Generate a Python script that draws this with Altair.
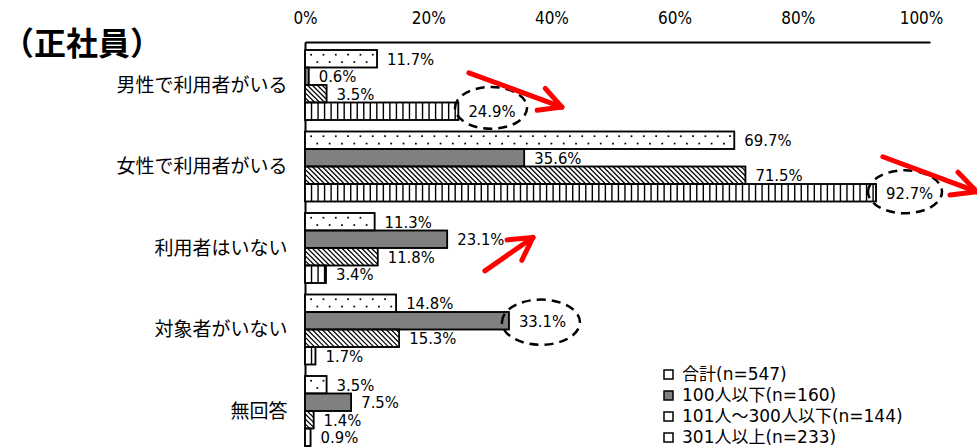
import json
import numpy as np
import pandas as pd
import altair as alt

# ---------------- data ----------------
categories = ["男性で利用者がいる", "女性で利用者がいる", "利用者はいない", "対象者がいない", "無回答"]
series_names = ["合計(n=547)", "100人以下(n=160)", "101人～300人以下(n=144)", "301人以上(n=233)"]
total_vals = [11.7, 69.7, 11.3, 14.8, 3.5]
small_vals = [0.6, 35.6, 23.1, 33.1, 7.5]
mid_vals = [3.5, 71.5, 11.8, 15.3, 1.4]
large_vals = [24.9, 92.7, 3.4, 1.7, 0.9]
tick_values = [0, 20, 40, 60, 80, 100]
title_text = "（正社員）"

# annotations (data units: x in %, y in category index)
ellipse_x = [30.2, 97.4, 38.3]
ellipse_y = [0.28, 1.31, 2.91]
arrow_x1 = [26.6, 93.8, 29.2]
arrow_y1 = [-0.15, 0.88, 2.28]
arrow_x2 = [41.7, 109.1, 37.0]
arrow_y2 = [0.27, 1.31, 1.87]
head_a_x = [39.0, 106.0, 32.8]
head_a_y = [0.04, 1.07, 1.90]
head_b_x = [37.7, 104.7, 35.2]
head_b_y = [0.31, 1.35, 2.15]

# ---------------- layout constants ----------------
STEP = 0.2147
HALF = 0.1074
PX_PER_PCT = 6.16
PX_PER_CAT = 81.5

rows = []
all_vals = [total_vals, small_vals, mid_vals, large_vals]
for j, (name, vals) in enumerate(zip(series_names, all_vals)):
    for i, (cat, v) in enumerate(zip(categories, vals)):
        yc = i + (j - 1.5) * STEP
        rows.append(dict(cat=cat, series=name, sidx=j, value=v, zero=0.0,
                         yc=yc, y0=yc - HALF, y1=yc + HALF, label=f"{v:.1f}%"))
df = pd.DataFrame(rows)

# textures
dots = []
stripes = []
hatch = []
for r in rows:
    v, y0, y1, yc = r["value"], r["y0"], r["y1"], r["yc"]
    if r["sidx"] == 0:
        for k in np.arange(1.0, v - 0.4, 2.0):
            dots.append(dict(x=k, y=yc - 0.05))
        for k in np.arange(2.0, v - 0.4, 2.0):
            dots.append(dict(x=k, y=yc + 0.04))
    elif r["sidx"] == 3:
        for k in np.arange(1.06, v - 0.2, 1.06):
            stripes.append(dict(x=k, y0=y0, y1=y1))
    elif r["sidx"] == 2:
        d = 2 * HALF * PX_PER_CAT / PX_PER_PCT
        h = y1 - y0
        for x0 in np.arange(-d, v, 0.8):
            xs, ys, xe, ye = x0, y0, x0 + d, y1
            if xs < 0:
                t = -xs / d
                xs, ys = 0.0, y0 + t * h
            if xe > v:
                t = (v - x0) / d
                xe, ye = v, y0 + t * h
            if xe - xs > 0.05:
                hatch.append(dict(xs=xs, ys=ys, xe=xe, ye=ye))
dots_df = pd.DataFrame(dots)
stripes_df = pd.DataFrame(stripes)
hatch_df = pd.DataFrame(hatch)

ell_df = pd.DataFrame(dict(x=ellipse_x, y=ellipse_y, s=[72 ** 2, 74 ** 2, 78 ** 2]))
seg_df = pd.DataFrame(dict(
    xs=arrow_x1 + arrow_x2 + arrow_x2,
    ys=arrow_y1 + arrow_y2 + arrow_y2,
    xe=arrow_x2 + head_a_x + head_b_x,
    ye=arrow_y2 + head_a_y + head_b_y,
))

# ---------------- scales & axes ----------------
xscale = alt.Scale(domain=[0, 101.46], nice=False, zero=False)
yscale = alt.Scale(domain=[-0.528, 4.441], nice=False, zero=False, reverse=True)

NUM_FONT = "DejaVu Sans Condensed"
JP_FONT = "Noto Sans CJK JP"
LEG_FONT = "DejaVu Sans, Noto Sans CJK JP, sans-serif"

label_expr = json.dumps(categories, ensure_ascii=False) + "[datum.value]"

x_axis = alt.Axis(orient="top", values=tick_values, labelExpr="datum.value + '%'",
                  domain=True, domainColor="black", domainWidth=2, ticks=False,
                  labelPadding=15, labelFont=NUM_FONT, labelFontSize=17, labelColor="black",
                  grid=False, title=None, labelFlush=False)
y_axis = alt.Axis(orient="left", values=[0, 1, 2, 3, 4], labelExpr=label_expr,
                  domain=True, domainColor="black", domainWidth=2, ticks=False,
                  labelPadding=18, labelFont=JP_FONT, labelFontSize=19, labelColor="black",
                  grid=False, title=None, labelOverlap=False, labelFlush=False)


def X(field):
    return alt.X(field, scale=xscale, axis=x_axis)


def Y(field):
    return alt.Y(field, scale=yscale, axis=y_axis)


base = alt.Chart(df)

bars = base.mark_bar(stroke="black", strokeWidth=1.5).encode(
    x=X("zero:Q"), x2="value:Q",
    y=Y("y0:Q"), y2="y1:Q",
    fill=alt.Fill("series:N", sort=series_names,
                  scale=alt.Scale(domain=series_names, range=["white", "#808080", "white", "white"]),
                  legend=alt.Legend(orient="none", legendX=355, legendY=324, title=None,
                                    symbolType="square", symbolSize=81,
                                    symbolStrokeColor="black", symbolStrokeWidth=1.5,
                                    labelFont=LEG_FONT, labelFontSize=17, labelColor="black",
                                    rowPadding=3, labelOffset=5, labelLimit=400)),
)

dots_layer = alt.Chart(dots_df).mark_point(filled=True, shape="square", size=3, color="black", opacity=1).encode(
    x=X("x:Q"), y=Y("y:Q"),
)

stripe_layer = alt.Chart(stripes_df).mark_rule(color="black", strokeWidth=1.4).encode(
    x=X("x:Q"), y=Y("y0:Q"), y2="y1:Q",
)

hatch_layer = alt.Chart(hatch_df).mark_rule(color="black", strokeWidth=1.2).encode(
    x=X("xs:Q"), x2="xe:Q", y=Y("ys:Q"), y2="ye:Q",
)

outline = base.mark_bar(fillOpacity=0, stroke="black", strokeWidth=1.5).encode(
    x=X("zero:Q"), x2="value:Q", y=Y("y0:Q"), y2="y1:Q",
)

labels = base.mark_text(align="left", baseline="middle", dx=10, dy=1, font=NUM_FONT,
                        fontSize=16.5, color="black").encode(
    x=X("value:Q"), y=Y("yc:Q"), text="label:N",
)

ellipses = alt.Chart(ell_df).mark_point(
    shape="M-1,0A1,0.58,0,1,1,1,0A1,0.58,0,1,1,-1,0Z",
    filled=False, stroke="black", strokeWidth=2.5, strokeDash=[9, 6], opacity=1,
).encode(
    x=X("x:Q"), y=Y("y:Q"), size=alt.Size("s:Q", scale=None),
)

arrows = alt.Chart(seg_df).mark_rule(color="#ff0000", strokeWidth=5, strokeCap="round").encode(
    x=X("xs:Q"), x2="xe:Q", y=Y("ys:Q"), y2="ye:Q",
)

title = alt.Chart(pd.DataFrame({"t": [title_text]})).mark_text(
    align="left", baseline="middle", font=JP_FONT, fontSize=32, fontWeight="bold", color="black"
).encode(text="t:N", x=alt.value(-303), y=alt.value(3))

chart = alt.layer(bars, dots_layer, stripe_layer, hatch_layer, outline, labels, ellipses, arrows, title).properties(
    width=625, height=405,
    autosize=alt.AutoSizeParams(type="none"),
    padding={"left": 305, "top": 42, "right": 47, "bottom": 0},
    background="white",
).resolve_axis(x="shared", y="shared").configure_view(stroke=None)

chart.save("out.html", embed_options={"renderer": "svg", "actions": False})
